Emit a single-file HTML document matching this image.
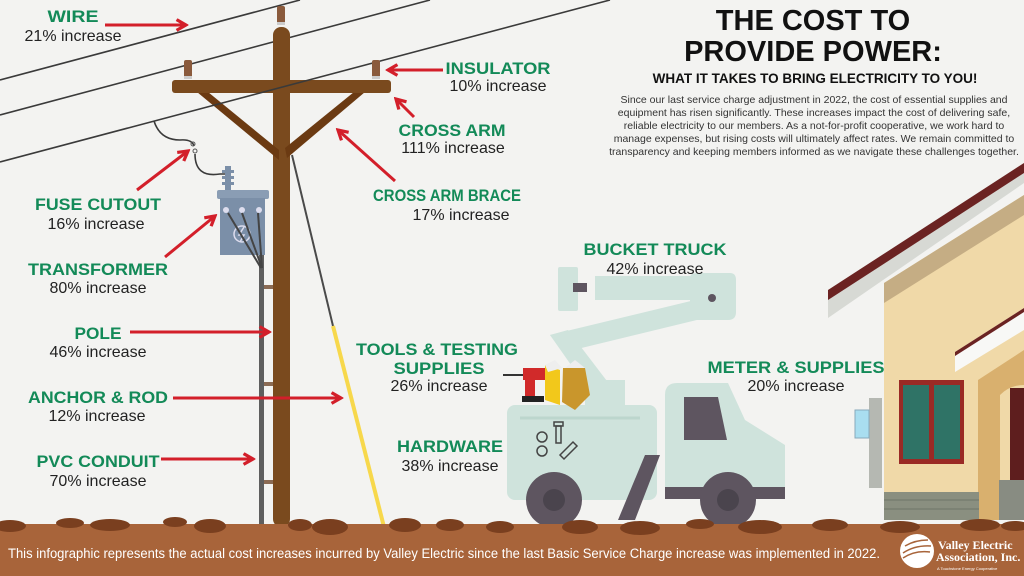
<!DOCTYPE html>
<html><head><meta charset="utf-8"><style>
html,body{margin:0;padding:0;background:#f3f3f1;}
svg{display:block;}
.g{font-family:"Liberation Sans Narrow","Liberation Sans",sans-serif;font-weight:bold;fill:#138a58;font-size:17px;text-anchor:middle;}
.b{font-family:"Liberation Sans Narrow","Liberation Sans",sans-serif;fill:#222;font-size:16px;text-anchor:middle;}
.p{font-family:"Liberation Sans Narrow","Liberation Sans",sans-serif;fill:#333;font-size:10.5px;text-anchor:middle;}
</style></head><body>
<svg width="1024" height="576" viewBox="0 0 1024 576" xmlns="http://www.w3.org/2000/svg">
<defs>
<marker id="ah" viewBox="0 0 10 10" refX="8" refY="5" markerWidth="4.5" markerHeight="4.5" orient="auto"><path d="M1,1 L8,5 L1,9" fill="none" stroke="#d31f2a" stroke-width="2.4"/></marker>
</defs>
<rect width="1024" height="576" fill="#f3f3f1"/>

<g stroke="#3a3a3a" stroke-width="1.6" fill="none">
<line x1="0" y1="80" x2="300" y2="0"/>
<line x1="0" y1="115" x2="430" y2="0"/>
<path d="M154,121 Q160,140 180,140 Q192,139 194,146"/>
<path d="M195,154 Q195,178 220,174 L226,174"/>
</g>
<circle cx="193" cy="144" r="2" fill="none" stroke="#555"/><circle cx="195" cy="151" r="2" fill="none" stroke="#555"/>

<line x1="292" y1="155" x2="333" y2="326" stroke="#4a4a4a" stroke-width="2"/>
<line x1="333" y1="326" x2="384" y2="527" stroke="#f7d84c" stroke-width="4"/>

<rect x="259" y="245" width="5" height="280" fill="#5e5e5e"/>
<g fill="#8b6b54"><rect x="264" y="285" width="10" height="4"/><rect x="264" y="382" width="10" height="4"/><rect x="264" y="480" width="10" height="4"/></g>

<rect x="273" y="27" width="17" height="500" rx="8" fill="#7a4a1e"/>
<path d="M197,92 L208,92 L279,150 L279,160 Z" fill="#6b3a12"/>
<path d="M365,92 L354,92 L285,148 L287,158 Z" fill="#6b3a12"/>
<rect x="172" y="80" width="219" height="13" rx="3" fill="#7a4a1e"/>
<line x1="0" y1="162" x2="610" y2="0" stroke="#3a3a3a" stroke-width="1.6"/>
<g fill="#8a5a3c"><rect x="277" y="6" width="8" height="18" rx="2"/><rect x="184" y="60" width="8" height="18" rx="2"/><rect x="372" y="60" width="8" height="18" rx="2"/></g>
<g fill="#ccc"><rect x="277" y="22" width="8" height="3"/><rect x="184" y="76" width="8" height="3"/><rect x="372" y="76" width="8" height="3"/></g>

<rect x="225" y="166" width="6" height="25" fill="#7b8fa8"/>
<g fill="#7b8fa8"><rect x="222" y="170" width="12" height="3"/><rect x="222" y="176" width="12" height="3"/><rect x="222" y="182" width="12" height="3"/></g>
<rect x="217" y="190" width="52" height="9" rx="2" fill="#8a9db4"/>
<rect x="220" y="198" width="45" height="57" fill="#7b8fa8"/>
<g fill="#dde"><circle cx="226" cy="210" r="3"/><circle cx="242" cy="210" r="3"/><circle cx="259" cy="210" r="3"/></g>
<circle cx="242" cy="234" r="8" fill="none" stroke="#dde" stroke-width="1.5"/>
<path d="M244,227 L239,235 L244,235 L240,242" fill="none" stroke="#dde" stroke-width="1.5"/>
<g stroke="#444" stroke-width="2"><line x1="228" y1="213" x2="261" y2="268"/><line x1="242" y1="213" x2="262" y2="268"/><line x1="258" y1="213" x2="262" y2="268"/></g>

<!-- truck -->
<g fill="#cfe3dc">
<rect x="558" y="267" width="20" height="44" rx="2"/>
<rect x="595" y="276" width="110" height="24"/>
<path d="M690,278 Q690,273 697,273 L730,273 Q736,273 736,280 L736,312 Q736,320 728,320 L695,320 L690,310 Z"/>
<path d="M550,335 L695,300 L705,318 L565,352 Z"/>
<path d="M550,335 L568,330 L610,385 L590,392 Z"/>
<rect x="585" y="380" width="40" height="30"/>
<rect x="507" y="405" width="150" height="95" rx="8"/>
<path d="M665,395 Q665,383 677,383 L728,383 L745,420 L785,445 L785,495 L665,495 Z"/>
</g>
<rect x="573" y="283" width="14" height="9" fill="#5e5560"/>
<circle cx="712" cy="298" r="4" fill="#5e5560"/>
<path d="M684,397 L718,397 L727,440 L684,440 Z" fill="#5e5560"/>
<rect x="665" y="487" width="120" height="12" fill="#5e5560"/>
<path d="M645,455 L660,455 L635,520 L618,520 Z" fill="#5e5560"/>
<circle cx="554" cy="500" r="28" fill="#5e5560"/><circle cx="554" cy="500" r="11" fill="#4a444d"/>
<circle cx="728" cy="500" r="28" fill="#5e5560"/><circle cx="728" cy="500" r="11" fill="#4a444d"/>
<line x1="520" y1="418" x2="640" y2="418" stroke="#bcd6cd" stroke-width="3"/>
<g fill="none" stroke="#444" stroke-width="1.5">
<circle cx="542" cy="437" r="5"/><circle cx="542" cy="451" r="5"/>
<rect x="554" y="422" width="9" height="4"/><rect x="556" y="426" width="5" height="17"/>
<path d="M560,455 L573,442 L577,446 L564,459 Z"/>
</g>
<rect x="503" y="374" width="20" height="2" fill="#333"/>
<rect x="523" y="368" width="22" height="12" fill="#d12a2a"/>
<rect x="525" y="378" width="10" height="20" fill="#d12a2a"/>
<rect x="522" y="396" width="22" height="6" fill="#222"/>
<path d="M545,365 L560,370 L560,405 L545,400 Z" fill="#f2c81b"/>
<path d="M563,368 L585,368 L590,395 L575,410 L562,402 Z" fill="#c9962c"/>
<path d="M545,365 L555,360 L562,368 L548,372 Z" fill="#eee"/>
<path d="M565,368 L575,360 L585,368 Z" fill="#eee"/>

<!-- house -->
<path d="M884,283 L1024,195 L1024,520 L884,520 Z" fill="#f0d9a8"/>
<path d="M884,283 L1024,195 L1024,215 L884,303 Z" fill="#c5ad84"/>
<path d="M828,290 L1024,163 L1024,183 L828,318 Z" fill="#d7d9d4"/>
<path d="M828,290 L1024,163 L1024,173 L828,300 Z" fill="#6b2322"/>
<path d="M978,380 L1024,350 L1024,520 L978,520 Z" fill="#d9b06e"/>
<path d="M955,352 L1024,308 L1024,330 L955,372 Z" fill="#f8f8f6"/>
<path d="M955,352 L1024,308 L1024,312 L955,356 Z" fill="#6b2322"/>
<path d="M1000,395 Q1010,385 1024,385 L1024,520 L1000,520 Z" fill="#f0d9a8"/>
<rect x="1010" y="388" width="14" height="130" fill="#5e1e1e"/>
<rect x="999" y="480" width="25" height="40" fill="#888c82"/>
<rect x="899" y="380" width="65" height="84" fill="#9a2a25"/>
<rect x="903" y="385" width="26" height="74" fill="#2f7366"/>
<rect x="934" y="385" width="26" height="74" fill="#2f7366"/>
<rect x="884" y="492" width="95" height="28" fill="#8a8f80"/>
<g stroke="#6f7468" stroke-width="1"><line x1="884" y1="500" x2="979" y2="500"/><line x1="884" y1="509" x2="979" y2="509"/></g>
<rect x="869" y="398" width="13" height="90" fill="#b5b8b2"/>
<rect x="855" y="410" width="14" height="28" fill="#a9def0" stroke="#8ab"/>

<!-- ground -->
<rect x="0" y="524" width="1024" height="52" fill="#a8643a"/>
<g fill="#7a3f1f">
<ellipse cx="10" cy="526" rx="16" ry="6"/><ellipse cx="70" cy="523" rx="14" ry="5"/><ellipse cx="110" cy="525" rx="20" ry="6"/>
<ellipse cx="175" cy="522" rx="12" ry="5"/><ellipse cx="210" cy="526" rx="16" ry="7"/><ellipse cx="300" cy="525" rx="12" ry="6"/>
<ellipse cx="330" cy="527" rx="18" ry="8"/><ellipse cx="405" cy="525" rx="16" ry="7"/><ellipse cx="450" cy="525" rx="14" ry="6"/>
<ellipse cx="500" cy="527" rx="14" ry="6"/><ellipse cx="580" cy="527" rx="18" ry="7"/><ellipse cx="640" cy="528" rx="20" ry="7"/>
<ellipse cx="700" cy="524" rx="14" ry="5"/><ellipse cx="760" cy="527" rx="22" ry="7"/><ellipse cx="830" cy="525" rx="18" ry="6"/>
<ellipse cx="900" cy="527" rx="20" ry="6"/><ellipse cx="980" cy="525" rx="20" ry="6"/><ellipse cx="1015" cy="526" rx="14" ry="5"/>
</g>
<text x="8" y="558" font-family="'Liberation Sans Narrow','Liberation Sans',sans-serif" font-size="13.5" fill="#fff" textLength="872" lengthAdjust="spacingAndGlyphs">This infographic represents the actual cost increases incurred by Valley Electric since the last Basic Service Charge increase was implemented in 2022.</text>
<circle cx="917" cy="551" r="17" fill="#fff"/>
<g stroke="#a8643a" stroke-width="1.5" fill="none"><path d="M903,553 Q915,545 931,546"/><path d="M903,558 Q915,550 930,552"/><path d="M905,546 Q915,540 928,540"/></g>
<text x="938" y="549" font-family="'Liberation Serif',serif" font-weight="bold" font-size="12" fill="#fff">Valley Electric</text>
<text x="936" y="561" font-family="'Liberation Serif',serif" font-weight="bold" font-size="12" fill="#fff">Association, Inc.</text>
<text x="937" y="570" font-family="'Liberation Sans',sans-serif" font-size="4" fill="#fff">A Touchstone Energy Cooperative</text>

<g stroke="#d31f2a" stroke-width="3" fill="none" marker-end="url(#ah)">
<line x1="105" y1="25" x2="186" y2="25"/>
<line x1="443" y1="70" x2="388" y2="70"/>
<line x1="414" y1="117" x2="396" y2="99"/>
<line x1="395" y1="181" x2="338" y2="130"/>
<line x1="137" y1="190" x2="188" y2="151"/>
<line x1="165" y1="257" x2="215" y2="216"/>
<line x1="130" y1="332" x2="269" y2="332"/>
<line x1="173" y1="398" x2="341" y2="398"/>
<line x1="161" y1="459" x2="253" y2="459"/>
</g>

<text class="g" x="73" y="22" textLength="51" lengthAdjust="spacingAndGlyphs">WIRE</text><text class="b" x="73" y="41">21% increase</text>
<text class="g" x="498" y="74" textLength="105" lengthAdjust="spacingAndGlyphs">INSULATOR</text><text class="b" x="498" y="91">10% increase</text>
<text class="g" x="452" y="136" textLength="107" lengthAdjust="spacingAndGlyphs">CROSS ARM</text><text class="b" x="453" y="153">111% increase</text>
<text class="g" x="447" y="201" textLength="148" lengthAdjust="spacingAndGlyphs">CROSS ARM BRACE</text><text class="b" x="461" y="220">17% increase</text>
<text class="g" x="98" y="210" textLength="126" lengthAdjust="spacingAndGlyphs">FUSE CUTOUT</text><text class="b" x="96" y="229">16% increase</text>
<text class="g" x="98" y="275" textLength="140" lengthAdjust="spacingAndGlyphs">TRANSFORMER</text><text class="b" x="98" y="293">80% increase</text>
<text class="g" x="98" y="339" textLength="47" lengthAdjust="spacingAndGlyphs">POLE</text><text class="b" x="98" y="357">46% increase</text>
<text class="g" x="98" y="403" textLength="140" lengthAdjust="spacingAndGlyphs">ANCHOR &amp; ROD</text><text class="b" x="97" y="421">12% increase</text>
<text class="g" x="98" y="467" textLength="123" lengthAdjust="spacingAndGlyphs">PVC CONDUIT</text><text class="b" x="98" y="486">70% increase</text>
<text class="g" x="437" y="355" textLength="162" lengthAdjust="spacingAndGlyphs">TOOLS &amp; TESTING</text><text class="g" x="439" y="374" textLength="91" lengthAdjust="spacingAndGlyphs">SUPPLIES</text><text class="b" x="439" y="391">26% increase</text>
<text class="g" x="450" y="452" textLength="106" lengthAdjust="spacingAndGlyphs">HARDWARE</text><text class="b" x="450" y="471">38% increase</text>
<text class="g" x="655" y="255" textLength="143" lengthAdjust="spacingAndGlyphs">BUCKET TRUCK</text><text class="b" x="655" y="274">42% increase</text>
<text class="g" x="796" y="373" textLength="177" lengthAdjust="spacingAndGlyphs">METER &amp; SUPPLIES</text><text class="b" x="796" y="391">20% increase</text>

<g font-family="'Liberation Sans Narrow','Liberation Sans',sans-serif" font-weight="bold" fill="#111" text-anchor="middle">
<text x="813" y="30" font-size="29">THE COST TO</text>
<text x="813" y="61" font-size="29">PROVIDE POWER:</text>
<text x="815" y="83" font-size="13.5">WHAT IT TAKES TO BRING ELECTRICITY TO YOU!</text>
</g>
<text class="p" x="814" y="103">Since our last service charge adjustment in 2022, the cost of essential supplies and</text>
<text class="p" x="814" y="116">equipment has risen significantly. These increases impact the cost of delivering safe,</text>
<text class="p" x="814" y="129">reliable electricity to our members. As a not-for-profit cooperative, we work hard to</text>
<text class="p" x="814" y="142">manage expenses, but rising costs will ultimately affect rates. We remain committed to</text>
<text class="p" x="814" y="155">transparency and keeping members informed as we navigate these challenges together.</text>
</svg>
</body></html>
